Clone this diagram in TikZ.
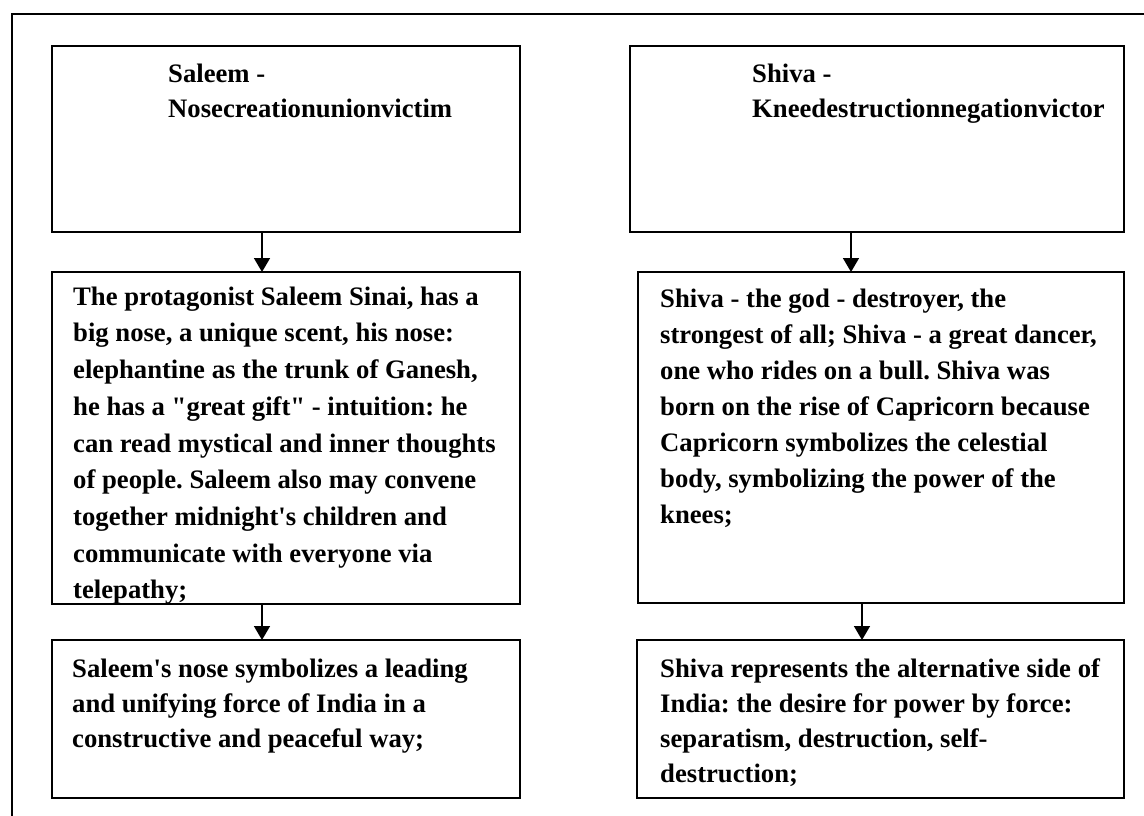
\documentclass[tikz,border=0pt]{standalone}
\usepackage{fontspec}
\setmainfont{Liberation Serif}[Ligatures=TeXOff]
\usetikzlibrary{arrows.meta}
\newcommand{\topo}{\rule{0pt}{20pt}} % altura fixa da primeira linha
\begin{document}
\frenchspacing
\begin{tikzpicture}[x=1pt,y=-1pt, %1 unidade = 1 pixel da figura
	caixa/.style={draw, line width=1.6pt, inner sep=0pt, outer sep=0pt, anchor=north west},
	texto/.style={anchor=north west, inner sep=0pt, align=left, font=\fontsize{26.67}{36.7}\selectfont\bfseries},
	seta/.style={line width=1.6pt, -{Triangle[length=14pt,width=16pt]}}]
	\useasboundingbox (0,0) rectangle (1144,816);
					%Moldura
	\draw[line width=1.6pt] (12,816) -- (12,14) -- (1144,14);
					%Caixas - Saleem
	\node[caixa, minimum width=468pt, minimum height=186pt] (saleemTitulo) at (52,46) {};
	\node[caixa, minimum width=468pt, minimum height=332pt] (saleemMeio) at (52,272) {};
	\node[caixa, minimum width=468pt, minimum height=158pt] (saleemFim) at (52,640) {};
					%Caixas - Shiva
	\node[caixa, minimum width=494pt, minimum height=186pt] (shivaTitulo) at (630,46) {};
	\node[caixa, minimum width=486pt, minimum height=331pt] (shivaMeio) at (638,272) {};
	\node[caixa, minimum width=487pt, minimum height=158pt] (shivaFim) at (637,640) {};
					%Textos
	\node[texto, font=\fontsize{26.67}{35}\selectfont\bfseries] (tSaleemTitulo) at (168,62) {\topo Saleem -\\Nosecreationunionvictim};
	\node[texto, font=\fontsize{26.67}{35}\selectfont\bfseries] (tShivaTitulo) at (752,62) {\topo Shiva -\\Kneedestructionnegationvictor};
	\node[texto] (tSaleemMeio) at (73,285) {\topo The protagonist Saleem Sinai, has a\\big nose, a unique scent, his nose:\\elephantine as the trunk of Ganesh,\\he has a "great gift" - intuition: he\\can read mystical and inner thoughts\\of people. Saleem also may convene\\together midnight's children and\\communicate with everyone via\\telepathy;};
	\node[texto, font=\fontsize{26.67}{36}\selectfont\bfseries] (tShivaMeio) at (660,287) {\topo Shiva - the god - destroyer, the\\strongest of all; Shiva - a great dancer,\\one who rides on a bull. Shiva was\\born on the rise of Capricorn because\\Capricorn symbolizes the celestial\\body, symbolizing the power of the\\knees;};
	\node[texto, font=\fontsize{26.67}{35}\selectfont\bfseries] (tSaleemFim) at (72,657) {\topo Saleem's nose symbolizes a leading\\and unifying force of India in a\\constructive and peaceful way;};
	\node[texto, font=\fontsize{26.67}{35}\selectfont\bfseries] (tShivaFim) at (660,657) {\topo Shiva represents the alternative side of\\India: the desire for power by force:\\separatism, destruction, self-\\destruction;};
					%Setas
	\draw[seta] ([xshift=-24pt]saleemTitulo.south) -- ([xshift=-24pt]saleemMeio.north);
	\draw[seta] ([xshift=-24pt]saleemMeio.south) -- ([xshift=-24pt]saleemFim.north);
	\draw[seta] ([xshift=-26pt]shivaTitulo.south) -- ([xshift=-30pt]shivaMeio.north);
	\draw[seta] ([xshift=-19pt]shivaMeio.south) -- ([xshift=-18.5pt]shivaFim.north);
\end{tikzpicture}
\end{document}
